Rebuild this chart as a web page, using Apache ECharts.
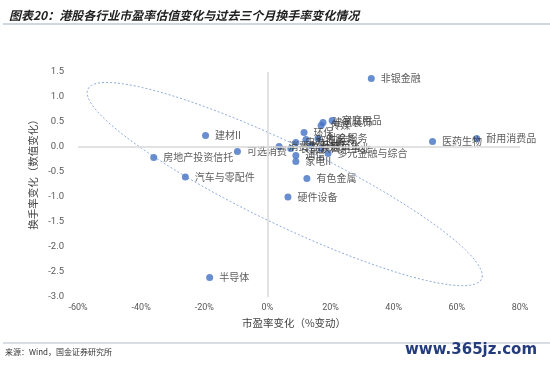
<!DOCTYPE html>
<html>
<head>
<meta charset="utf-8">
<script src="https://cdn.jsdelivr.net/npm/echarts@6/dist/echarts.min.js"></script>
<style>
html,body{margin:0;padding:0;background:#fff;}
#c{width:550px;height:368px;}
</style>
</head>
<body>
<div id="c"></div>
<script>
// ---- data ----
const industries = ['非银金融','家庭用品','建筑装饰','传媒','环保','软件服务','社会服务','石油石化','消费者服务','食品饮料','电力设备','通信','家电II','公用事业','多元金融与综合','医药生物','耐用消费品','建材II','房地产投资信托','可选消费','汽车与零配件','有色金属','硬件设备','半导体'];
const peChange =       [32.9, 20.5, 17.6, 17.0, 11.6, 12.2, 16.0, 13.8, 3.7, 7.4, 9.0, 9.0, 9.0, 17.0, 19.2, 52.3, 66.3, -19.6, -36.0, -9.5, -26.0, 12.5, 6.5, -18.3];
const turnoverChange = [1.37, 0.53, 0.49, 0.43, 0.29, 0.15, 0.17, 0.03, 0.01, -0.03, 0.09, -0.17, -0.29, -0.03, -0.13, 0.11, 0.17, 0.23, -0.21, -0.09, -0.60, -0.63, -1.00, -2.61];
const xTickMin = -60, xTickMax = 80, xTickStep = 20;
const yTickMin = -3.0, yTickMax = 1.5, yTickStep = 0.5;
// ellipse annotation (data units)
const ellipseCenter = [5.47, -0.742];
const ellipseHalfX = 62.6, ellipseShear = -1.83, ellipseHalfY = 0.884;

const pts = industries.map((n, i) => ({ name: n, value: [peChange[i], turnoverChange[i]] }));
const ell = [];
for (let k = 0; k <= 180; k++) {
  const t = k / 180 * Math.PI * 2;
  ell.push([ellipseCenter[0] + ellipseHalfX * Math.cos(t),
            ellipseCenter[1] + ellipseShear * Math.cos(t) - ellipseHalfY * Math.sin(t)]);
}
const FONT = '"Noto Sans CJK SC", "Noto Sans", sans-serif';
const chart = echarts.init(document.getElementById('c'), null, { renderer: 'canvas' });
chart.setOption({
  animation: false,
  backgroundColor: '#fff',
  title: {
    text: '图表20：港股各行业市盈率估值变化与过去三个月换手率变化情况',
    left: 4, top: 4,
    textStyle: { fontSize: 12, fontWeight: 'bold', fontStyle: 'italic', color: '#222', fontFamily: FONT }
  },
  graphic: [
    { type: 'rect', shape: { x: 3, y: 23, width: 547, height: 2 }, style: { fill: '#cfd8e0' } },
    { type: 'rect', shape: { x: 3, y: 342, width: 547, height: 2 }, style: { fill: '#d8dee4' } },
    { type: 'text', left: 5, top: 348, style: { text: '来源：Wind，国金证券研究所', fontSize: 8, fill: '#333', fontFamily: FONT } },
    { type: 'text', left: 405, top: 343, style: { text: 'www.365jz.com', fontSize: 15, fontWeight: 'bold', fill: '#243c7c', fontFamily: '"DejaVu Sans", sans-serif' } },
    { type: 'text', x: 33, y: 172, rotation: Math.PI / 2,
      style: { text: '换手率变化（数值变化）', fontSize: 10.5, fill: '#444', fontFamily: FONT, align: 'center', verticalAlign: 'middle' } }
  ],
  grid: { left: 78, right: 30, top: 72, bottom: 71, containLabel: false },
  xAxis: {
    type: 'value', min: xTickMin, max: xTickMax, interval: xTickStep,
    axisLine: { show: false }, axisTick: { show: false }, splitLine: { show: false },
    axisLabel: { formatter: v => v + '%', fontSize: 9, color: '#595959', margin: 6, fontFamily: 'Roboto, sans-serif' },
    name: '市盈率变化（%变动）', nameLocation: 'middle', nameGap: 21,
    nameTextStyle: { fontSize: 10.5, color: '#444', fontFamily: FONT, padding: [0, 10, 0, 0] }
  },
  yAxis: {
    type: 'value', min: yTickMin, max: yTickMax, interval: yTickStep,
    axisLine: { show: false }, axisTick: { show: false }, splitLine: { show: false },
    axisLabel: { formatter: v => v.toFixed(1), fontSize: 9.5, color: '#595959', margin: 14, fontFamily: 'Roboto, sans-serif' }
  },
  series: [
    {
      type: 'line', data: ell, symbol: 'none', smooth: false, silent: true, z: 1,
      lineStyle: { color: '#8eaadb', width: 1, type: [2, 2] }
    },
    {
      type: 'scatter', data: pts, symbolSize: 7, z: 3,
      itemStyle: { color: '#4472c4' },
      label: { show: true, position: 'right', distance: 6, formatter: p => p.name, fontSize: 10, color: '#333', fontFamily: FONT },
      markLine: {
        silent: true, symbol: 'none', label: { show: false },
        lineStyle: { color: '#d9d9d9', width: 1.5, type: 'solid' },
        data: [{ xAxis: 0 }, { yAxis: 0 }]
      }
    }
  ]
});
</script>
</body>
</html>
